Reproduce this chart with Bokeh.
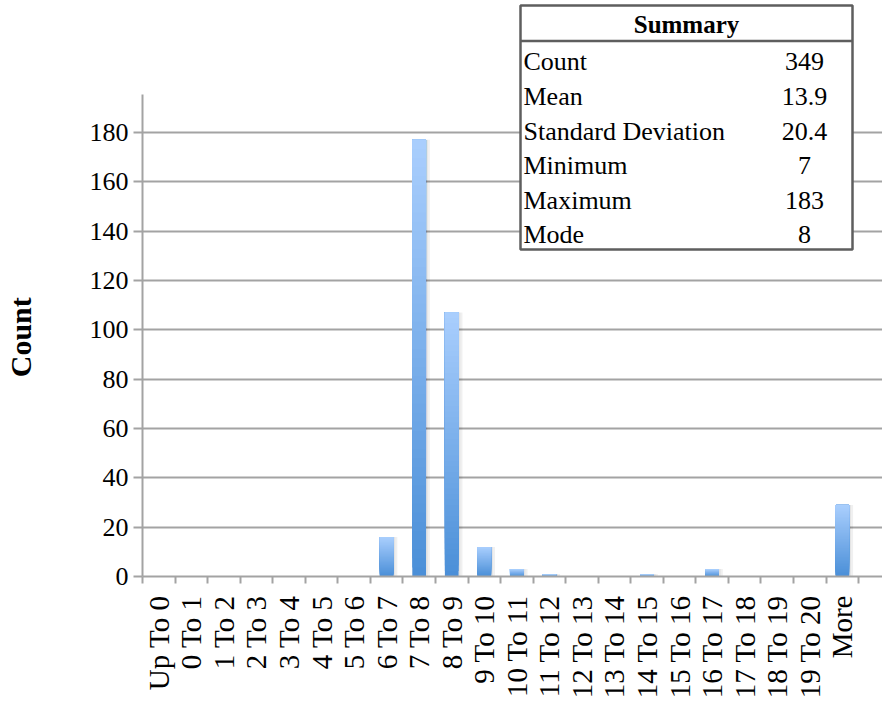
import numpy as np
from bokeh.plotting import figure
from bokeh.models import Range1d, FixedTicker, ColumnDataSource
from bokeh.core.properties import value
from bokeh.embed import file_html
from bokeh.resources import INLINE

# ---------------- data ----------------
categories = ["Up To 0", "0 To 1", "1 To 2", "2 To 3", "3 To 4", "4 To 5", "5 To 6",
              "6 To 7", "7 To 8", "8 To 9", "9 To 10", "10 To 11", "11 To 12",
              "12 To 13", "13 To 14", "14 To 15", "15 To 16", "16 To 17",
              "17 To 18", "18 To 19", "19 To 20", "More"]
counts = [0, 0, 0, 0, 0, 0, 0, 16, 177, 107, 12, 3, 1, 0, 0, 1, 0, 3, 0, 0, 0, 29]
y_ticks = [0, 20, 40, 60, 80, 100, 120, 140, 160, 180]
stat_names = ["Count", "Mean", "Standard Deviation", "Minimum", "Maximum", "Mode"]
stat_values = ["349", "13.9", "20.4", "7", "183", "8"]
table_title = "Summary"
y_title = "Count"

# ---------------- geometry (pixels) ----------------
W, H = 882, 704
FL, FB = 142, 128          # left / bottom borders -> frame from x=142, y(bottom)=576
FRAME_W, FRAME_H = W - FL, H - FB
PX_PER_CAT = 32.55
PX_PER_UNIT = 2.467
AXIS_TOP_VAL = 195.4

x0 = -0.5
x1 = x0 + FRAME_W / PX_PER_CAT
y0 = 0.0
y1 = FRAME_H / PX_PER_UNIT

def px2x(px):
    return x0 + (px - FL) / PX_PER_CAT

def py2y(py):
    return (FRAME_H - py) / PX_PER_UNIT

FONT = value("Liberation Serif")

p = figure(width=W, height=H, output_backend="svg", toolbar_location=None,
           x_range=Range1d(x0, x1), y_range=Range1d(y0, y1),
           min_border_left=FL, min_border_right=0, min_border_top=0,
           min_border_bottom=FB, title=None)
p.outline_line_color = None
p.background_fill_color = "white"
p.border_fill_color = "white"

# ---------------- bars with vertical gradient ----------------
xs = np.arange(len(categories))
vals = np.array(counts, dtype=float)
bar_w = 0.42

# soft shadow
p.vbar(x=xs + 0.06, top=vals, bottom=0, width=bar_w + 0.12,
       fill_color="black", fill_alpha=0.06, line_color=None)
p.vbar(x=xs + 0.03, top=vals, bottom=0, width=bar_w + 0.05,
       fill_color="black", fill_alpha=0.05, line_color=None)

N = 48
bot_rgb = np.array([0x4a, 0x8f, 0xd8])
top_rgb = np.array([0xab, 0xcf, 0xfe])
sx, sb, st, sc = [], [], [], []
for i, v in enumerate(vals):
    if v <= 0:
        continue
    for k in range(N):
        t = (k + 0.5) / N
        rgb = (bot_rgb + (top_rgb - bot_rgb) * t).astype(int)
        sx.append(xs[i])
        sb.append(v * k / N)
        st.append(v)                      # later slices paint over the upper part
        sc.append("#%02x%02x%02x" % tuple(rgb))
src = ColumnDataSource(dict(x=sx, bottom=sb, top=st, color=sc))
p.vbar(x="x", bottom="bottom", top="top", width=bar_w, fill_color="color",
       line_color=None, source=src)

# ---------------- axes & grid ----------------
GRAY = "#a3a3a3"
yax = p.yaxis[0]
yax.ticker = FixedTicker(ticks=y_ticks)
yax.bounds = (0, AXIS_TOP_VAL)
yax.axis_line_color = GRAY
yax.axis_line_width = 2
yax.major_tick_line_color = GRAY
yax.major_tick_line_width = 2
yax.major_tick_out = 9
yax.major_tick_in = 0
yax.minor_tick_line_color = None
yax.major_label_text_font = "Liberation Serif"
yax.major_label_text_font_size = "26px"
yax.major_label_text_color = "black"
yax.major_label_standoff = 5
# trailing no-break spaces move the visible word down to the middle of the drawn axis
yax.axis_label = y_title + "\u00a0" * 13
yax.axis_label_text_font = "Liberation Serif"
yax.axis_label_text_font_style = "bold"
yax.axis_label_text_font_size = "30px"
yax.axis_label_text_color = "black"
yax.axis_label_standoff = 50

xax = p.xaxis[0]
xax.ticker = FixedTicker(ticks=list(xs), minor_ticks=list(np.arange(len(categories) + 1) - 0.5))
xax.major_label_overrides = {int(i): c for i, c in zip(xs, categories)}
xax.major_label_orientation = np.pi / 2
xax.major_tick_line_color = None
xax.major_tick_out = 7
xax.minor_tick_line_color = GRAY
xax.minor_tick_line_width = 2
xax.minor_tick_out = 7
xax.minor_tick_in = 0
xax.axis_line_color = GRAY
xax.axis_line_width = 2
xax.major_label_text_font = "Liberation Serif"
xax.major_label_text_font_size = "29px"
xax.major_label_text_color = "black"
xax.major_label_standoff = 12

p.xgrid.grid_line_color = None
p.ygrid.grid_line_color = GRAY
p.ygrid.grid_line_width = 2

# ---------------- summary table ----------------
TL, TR, TT, TB = 520, 852, 5, 249
HEADER_B = 40.5
BORDER = "#5e5e5e"
p.quad(left=[px2x(TL)], right=[px2x(TR)], top=[py2y(TT)], bottom=[py2y(TB)],
       fill_color="white", line_color=BORDER, line_width=2.5)
p.segment(x0=[px2x(TL)], x1=[px2x(TR)], y0=[py2y(HEADER_B)], y1=[py2y(HEADER_B)],
          line_color=BORDER, line_width=2.5)
p.text(x=[px2x((TL + TR) / 2)], y=[py2y(24)], text=[table_title],
       text_font=FONT, text_font_style="bold", text_font_size="25px",
       text_align="center", text_baseline="middle", text_color="black")
row_py = [61, 96, 130.5, 165, 199.5, 234]
p.text(x=[px2x(523)] * len(stat_names), y=[py2y(r) for r in row_py], text=stat_names,
       text_font=FONT, text_font_size="26px", text_align="left",
       text_baseline="middle", text_color="black")
p.text(x=[px2x(804)] * len(stat_values), y=[py2y(r) for r in row_py], text=stat_values,
       text_font=FONT, text_font_size="26px", text_align="center",
       text_baseline="middle", text_color="black")

open("out.html", "w").write(file_html(p, INLINE))
